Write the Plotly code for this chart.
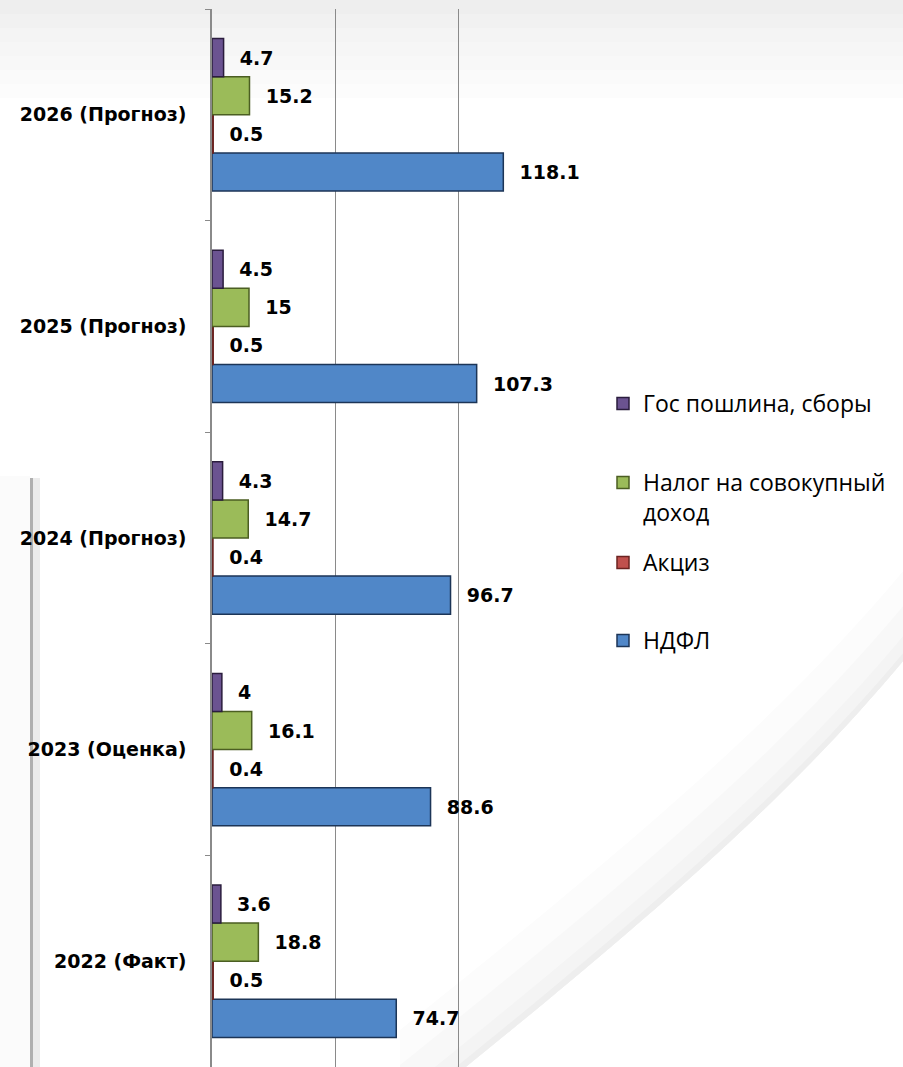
import plotly.graph_objects as go

categories = ["2022 (Факт)", "2023 (Оценка)", "2024 (Прогноз)", "2025 (Прогноз)", "2026 (Прогноз)"]
ndfl = [74.7, 88.6, 96.7, 107.3, 118.1]
akciz = [0.5, 0.4, 0.4, 0.5, 0.5]
nalog_sovok = [18.8, 16.1, 14.7, 15, 15.2]
gos_poshlina = [3.6, 4, 4.3, 4.5, 4.7]

series = [
    ("НДФЛ", ndfl, "#5087C8", "#1c3557", "legend4"),
    ("Акциз", akciz, "#C0504D", "#6b2321", "legend3"),
    ("Налог на совокупный<br>доход", nalog_sovok, "#9BBB59", "#4b5e22", "legend2"),
    ("Гос пошлина, сборы", gos_poshlina, "#6B5391", "#2a1c3d", "legend"),
]

W, H = 903, 1067
L, R, T, B = 212, 321, 9, 0
PW, PH = W - L - R, H - T - B

def px(x):
    return (x - L) / PW

def py(y):
    return 1 - (y - T) / PH

BOLD = "'DejaVu Sans', sans-serif"
REG = "'Open Sans', sans-serif"

fig = go.Figure()
for name, vals, col, edge, leg in series:
    fig.add_trace(go.Bar(
        y=categories, x=vals, orientation="h", name=name,
        marker=dict(color=col, line=dict(color=edge, width=1.5)),
        text=vals, texttemplate="  %{x}", textposition="outside",
        textfont=dict(family=BOLD, size=19, color="#000000", weight="bold"),
        constraintext="none", cliponaxis=False,
        legend=leg,
    ))

shapes = []
# top gradient band
greys = ["#eeeeee", "#f1f1f1", "#f4f4f4", "#f6f6f6", "#f8f8f8", "#fafafa", "#fcfcfc"]
for k, g in enumerate(greys):
    shapes.append(dict(type="rect", xref="paper", yref="paper", layer="below",
                       x0=px(0), x1=px(W), y0=py(k * 14), y1=py((k + 1) * 14),
                       fillcolor=g, line=dict(width=0)))
# left panel shadow
shapes.append(dict(type="rect", xref="paper", yref="paper", layer="below",
                   x0=px(0), x1=px(30), y0=py(476), y1=py(H),
                   fillcolor="#fbfbfb", line=dict(width=0)))
shapes.append(dict(type="line", xref="paper", yref="paper", layer="below",
                   x0=px(36), x1=px(36), y0=py(478), y1=py(H),
                   line=dict(color="#ececec", width=8)))
shapes.append(dict(type="line", xref="paper", yref="paper", layer="below",
                   x0=px(31.5), x1=px(31.5), y0=py(478), y1=py(H),
                   line=dict(color="#b0b0b0", width=3)))

# swoosh bottom right (soft page curl), bands shifted upward only, ends off-canvas
def band(d, color):
    path = (f"M {px(960)},{py(590)} C {px(830)},{py(760)} {px(700)},{py(880)} {px(400)},{py(1120)} "
            f"L {px(400)},{py(1120 - d)} "
            f"C {px(700)},{py(880 - d)} {px(830)},{py(760 - d)} {px(960)},{py(590 - d)} Z")
    return dict(type="path", xref="paper", yref="paper", layer="below",
                path=path, fillcolor=color, line=dict(width=0))

shapes.append(band(90, "#fcfcfc"))
shapes.append(band(55, "#f8f8f8"))
shapes.append(band(25, "#f4f4f4"))
shapes.append(band(8, "#eeeeee"))

def legend_at(ytop):
    return dict(
        x=px(603), y=py(ytop), xanchor="left", yanchor="top", valign="top",
        font=dict(family=REG, size=23, color="#000000"),
        bgcolor="rgba(0,0,0,0)",
    )

fig.update_layout(
    width=W, height=H,
    margin=dict(l=L, r=R, t=T, b=B),
    paper_bgcolor="#ffffff", plot_bgcolor="rgba(0,0,0,0)",
    barmode="group", bargap=0.28, bargroupgap=0.0,
    font=dict(family=REG, color="#000000"),
    showlegend=True,
    legend=legend_at(382),
    legend2=legend_at(461),
    legend3=legend_at(541),
    legend4=legend_at(619),
    shapes=shapes,
    xaxis=dict(
        range=[0, 150], dtick=50, tick0=0, showticklabels=False,
        showgrid=True, gridcolor="#8a8a8a", gridwidth=1.2,
        zeroline=False, showline=False, fixedrange=True,
    ),
    yaxis=dict(
        type="category", categoryorder="array", categoryarray=categories,
        showline=True, linecolor="#8a8a8a", linewidth=1.5,
        ticks="outside", tickson="boundaries", ticklen=5, tickcolor="#8a8a8a",
        ticklabelstandoff=20,
        tickfont=dict(family=BOLD, size=19, color="#000000", weight="bold"),
        showgrid=False, zeroline=False,
    ),
)

fig.write_html(
    "out.html",
    config={"displayModeBar": False},
    post_script="document.body.style.margin='0';document.body.style.overflow='hidden';",
)
